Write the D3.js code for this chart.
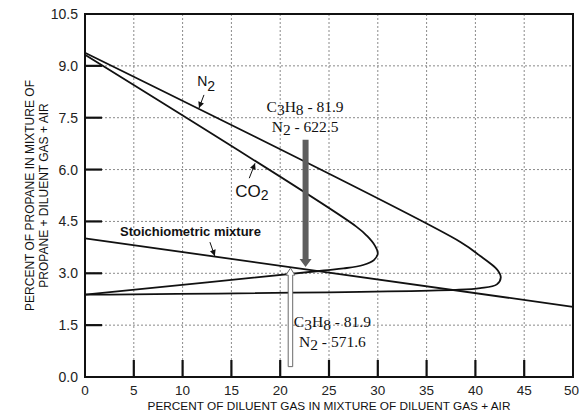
<!DOCTYPE html>
<html>
<head>
<meta charset="utf-8">
<script src="https://cdn.jsdelivr.net/npm/d3@7"></script>
<style>
	body { margin: 0; background: #fff; }
	svg text { font-family: "Liberation Sans", Arial, sans-serif; fill: #111; }
	.serif { font-family: "Liberation Serif", "Times New Roman", serif; }
</style>
</head>
<body>
<script>

// axis ticks
const xTicks = [0, 5, 10, 15, 20, 25, 30, 35, 40, 45, 50];
const yTicks = [0, 1.5, 3.0, 4.5, 6.0, 7.5, 9.0, 10.5];

// flammability envelopes, [diluent %, propane %]
const n2Curve = [[0, 9.38], [38.5, 3.9], [40.5, 3.5], [41.5, 3.29], [42.3, 3.08], [42.6, 2.88],
	[42.2, 2.68], [40.5, 2.57], [38, 2.52], [0, 2.38]];
const co2Curve = [[0, 9.32], [27.8, 4.35], [28.9, 4.08], [29.7, 3.8], [30.0, 3.58], [29.6, 3.38],
	[28.5, 3.24], [26.5, 3.14], [24.5, 3.08], [0, 2.38]];
const stoichLine = [[0, 4.01], [50, 2.03]];

// operating points: [diluent %, arrow start, arrow end]
const pointN2 = [22.6, 6.86, 3.18];
const pointN2b = [21.05, 0.3, 3.15];
const pointN2Values = ["81.9", "622.5"];
const pointN2bValues = ["81.9", "571.6"];

const width = 579, height = 415;
const x = d3.scaleLinear().domain([0, 50]).range([85, 573]);
const y = d3.scaleLinear().domain([0, 10.5]).range([377, 14]);
const TICK_LEN = 17;

const svg = d3.select('body').append('svg')
	.attr('width', width)
	.attr('height', height);

svg.append('defs').append('marker')
	.attr('id', 'head')
	.attr('viewBox', '0 0 10 10')
	.attr('refX', 10).attr('refY', 5)
	.attr('markerWidth', 7).attr('markerHeight', 6)
	.attr('markerUnits', 'userSpaceOnUse')
	.attr('orient', 'auto')
	.append('path').attr('d', 'M0,0 L10,5 L0,10 z').attr('fill', '#111');

/* grid */
const grid = svg.append('g').attr('stroke', '#8a8a8a').attr('stroke-width', 1).attr('stroke-dasharray', '2,2');
grid.selectAll('.gx').data(xTicks.slice(1, -1)).enter().append('line')
	.attr('x1', d => x(d)).attr('x2', d => x(d))
	.attr('y1', y(10.5)).attr('y2', y(0));
grid.selectAll('.gy').data(yTicks.slice(1, -1)).enter().append('line')
	.attr('x1', x(0)).attr('x2', x(50))
	.attr('y1', d => y(d)).attr('y2', d => y(d));

/* tick marks, inside the frame */
const ticks = svg.append('g').attr('stroke', '#111').attr('stroke-width', 2.2);
ticks.selectAll('.tx').data(xTicks.slice(1, -1)).enter().append('line')
	.attr('x1', d => x(d)).attr('x2', d => x(d))
	.attr('y1', y(0)).attr('y2', y(0) - TICK_LEN);
ticks.selectAll('.ty').data(yTicks.slice(1, -1)).enter().append('line')
	.attr('x1', x(0)).attr('x2', x(0) + TICK_LEN)
	.attr('y1', d => y(d)).attr('y2', d => y(d));

/* tick labels */
svg.append('g').selectAll('text').data(xTicks).enter().append('text')
	.attr('x', d => d === 50 ? width : x(d)).attr('y', y(0) + 18)
	.attr('text-anchor', d => d === 50 ? 'end' : 'middle')
	.style('font-size', '13.5px').style('fill', '#222')
	.text(d => d);
svg.append('g').selectAll('text').data(yTicks).enter().append('text')
	.attr('x', x(0) - 7).attr('y', d => y(d) + 5)
	.attr('text-anchor', 'end')
	.style('font-size', '14px').style('fill', '#222')
	.text(d => d.toFixed(1));

/* axis titles */
svg.append('text')
	.attr('x', (x(0) + x(50)) / 2).attr('y', 409.5)
	.attr('text-anchor', 'middle')
	.style('font-size', '11.8px')
	.text('PERCENT OF DILUENT GAS IN MIXTURE OF DILUENT GAS + AIR');
const yTitle = svg.append('text')
	.attr('transform', `translate(0, ${(y(0) + y(10.5)) / 2}) rotate(-90)`)
	.attr('text-anchor', 'middle')
	.style('font-size', '12px');
yTitle.append('tspan').attr('x', 0).attr('y', 34).text('PERCENT OF PROPANE IN MIXTURE OF');
yTitle.append('tspan').attr('x', 0).attr('y', 48).text('PROPANE + DILUENT GAS + AIR');

/* curves */
const line = d3.line().x(d => x(d[0])).y(d => y(d[1])).curve(d3.curveCatmullRom.alpha(0.5));
[n2Curve, co2Curve, stoichLine].forEach(c => {
	svg.append('path')
		.attr('d', line(c))
		.attr('fill', 'none')
		.attr('stroke', '#111')
		.attr('stroke-width', 1.8);
});

/* frame */
svg.append('rect')
	.attr('x', x(0)).attr('y', y(10.5))
	.attr('width', x(50) - x(0)).attr('height', y(0) - y(10.5))
	.attr('fill', 'none').attr('stroke', '#111').attr('stroke-width', 2);

/* block arrows */
function blockArrow(p, shaft, head, headLen) {
	const cx = x(p[0]), y0 = y(p[1]), y1 = y(p[2]);
	const dir = y1 > y0 ? 1 : -1;
	const yb = y1 - dir * headLen;
	return [[cx - shaft / 2, y0], [cx - shaft / 2, yb], [cx - head / 2, yb], [cx, y1],
		[cx + head / 2, yb], [cx + shaft / 2, yb], [cx + shaft / 2, y0]];
}
svg.append('polygon')
	.attr('points', blockArrow(pointN2, 6, 12, 8).join(' '))
	.attr('fill', '#5e5e5e');
svg.append('polygon')
	.attr('points', blockArrow(pointN2b, 4.5, 9, 7).join(' '))
	.attr('fill', '#fff').attr('stroke', '#6a6a6a').attr('stroke-width', 1);

/* pointers to curves */
function pointer(a, b) {
	svg.append('line')
		.attr('x1', x(a[0])).attr('y1', y(a[1]))
		.attr('x2', x(b[0])).attr('y2', y(b[1]))
		.attr('stroke', '#111').attr('stroke-width', 1)
		.attr('marker-end', 'url(#head)');
}
pointer([12.19, 8.16], [11.68, 7.78]);
pointer([16.83, 5.75], [17.42, 6.18]);
pointer([12.8, 3.9], [13.3, 3.5]);

/* curve labels */
const n2Text = svg.append('text').attr('x', x(11.5)).attr('y', y(8.42)).style('font-size', '14px');
n2Text.append('tspan').text('N');
n2Text.append('tspan').attr('dy', 5).text('2');

const co2Text = svg.append('text').attr('x', x(15.4)).attr('y', y(5.22)).style('font-size', '17px');
co2Text.append('tspan').text('CO');
co2Text.append('tspan').attr('dy', 3).style('font-size', '14px').text('2');

svg.append('text')
	.attr('x', x(3.59)).attr('y', y(4.08))
	.style('font-size', '13px').style('font-weight', 'bold')
	.text('Stoichiometric mixture');

/* operating point labels */
function pointLabel(cx, yTop, values) {
	const t1 = svg.append('text').attr('class', 'serif')
		.attr('x', x(cx)).attr('y', yTop).attr('text-anchor', 'middle').style('font-size', '15.5px');
	t1.append('tspan').text('C');
	t1.append('tspan').attr('dy', 3).text('3');
	t1.append('tspan').attr('dy', -3).text('H');
	t1.append('tspan').attr('dy', 3).text('8');
	t1.append('tspan').attr('dy', -3).text(' - ' + values[0]);
	const t2 = svg.append('text').attr('class', 'serif')
		.attr('x', x(cx)).attr('y', yTop + 20).attr('text-anchor', 'middle').style('font-size', '15.5px');
	t2.append('tspan').text('N');
	t2.append('tspan').attr('dy', 3).text('2');
	t2.append('tspan').attr('dy', -3).text(' - ' + values[1]);
}
pointLabel(22.55, y(7.67), pointN2Values);
pointLabel(25.35, y(1.46), pointN2bValues);

</script>
</body>
</html>
